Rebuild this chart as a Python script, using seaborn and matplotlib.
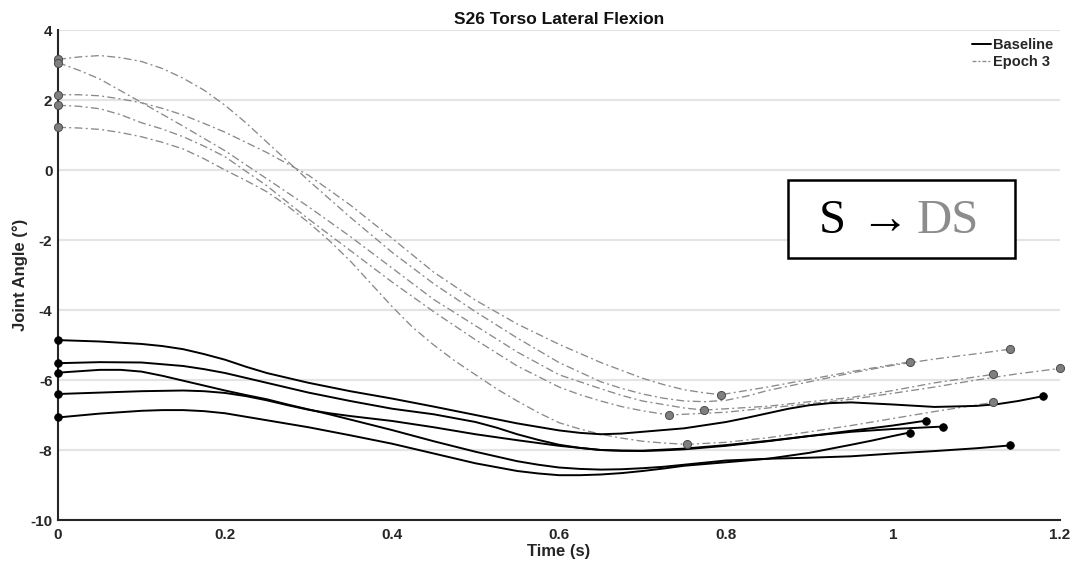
import matplotlib
matplotlib.use("Agg")
import matplotlib.pyplot as plt
from matplotlib.lines import Line2D
from matplotlib.patches import Rectangle
import pandas as pd
import seaborn as sns

# ---------------- data: torso lateral flexion, subject S26 ----------------
# Baseline trials (time in s, angle in degrees)
baseline_1_t = [0, 0.05, 0.1, 0.125, 0.15, 0.175, 0.2, 0.225, 0.25, 0.3, 0.35, 0.4, 0.45, 0.5, 0.55,
                0.6, 0.625, 0.65, 0.675, 0.7, 0.75, 0.8, 0.825, 0.85, 0.875, 0.9, 0.925, 0.95,
                1.0, 1.05, 1.1, 1.125, 1.15, 1.18]
baseline_1_y = [-4.86, -4.9, -4.97, -5.03, -5.12, -5.26, -5.42, -5.62, -5.8, -6.08, -6.32, -6.53,
                -6.76, -7.0, -7.24, -7.44, -7.51, -7.55, -7.53, -7.48, -7.38, -7.2, -7.08, -6.95,
                -6.82, -6.72, -6.66, -6.64, -6.7, -6.77, -6.74, -6.69, -6.6, -6.46]

baseline_2_t = [0, 0.05, 0.1, 0.15, 0.175, 0.2, 0.225, 0.25, 0.3, 0.35, 0.4, 0.45, 0.5, 0.525,
                0.55, 0.575, 0.6, 0.625, 0.65, 0.675, 0.7, 0.75, 0.8, 0.85, 0.9, 0.95, 1.0, 1.04]
baseline_2_y = [-5.52, -5.49, -5.5, -5.6, -5.69, -5.8, -5.94, -6.08, -6.36, -6.6, -6.82, -6.98,
                -7.2, -7.36, -7.55, -7.71, -7.85, -7.94, -8.0, -8.02, -8.02, -7.96, -7.86, -7.74,
                -7.6, -7.45, -7.3, -7.16]

baseline_3_t = [0, 0.05, 0.075, 0.1, 0.125, 0.15, 0.175, 0.2, 0.225, 0.25, 0.275, 0.3, 0.325,
                0.35, 0.4, 0.45, 0.5, 0.55, 0.575, 0.6, 0.625, 0.65, 0.675, 0.7, 0.725, 0.75,
                0.8, 0.85, 0.9, 0.95, 1.0, 1.05, 1.1, 1.14]
baseline_3_y = [-5.79, -5.71, -5.71, -5.76, -5.88, -6.02, -6.16, -6.3, -6.43, -6.55, -6.7, -6.84,
                -6.98, -7.13, -7.43, -7.75, -8.05, -8.32, -8.42, -8.5, -8.54, -8.56, -8.55, -8.52,
                -8.48, -8.42, -8.3, -8.25, -8.22, -8.18, -8.1, -8.03, -7.95, -7.87]

baseline_4_t = [0, 0.05, 0.1, 0.15, 0.175, 0.2, 0.225, 0.25, 0.275, 0.3, 0.325, 0.35, 0.4, 0.45,
                0.5, 0.55, 0.6, 0.65, 0.675, 0.7, 0.725, 0.75, 0.8, 0.85, 0.9, 0.95, 1.0, 1.06]
baseline_4_y = [-6.4, -6.36, -6.32, -6.3, -6.32, -6.37, -6.46, -6.58, -6.72, -6.85, -6.95, -7.03,
                -7.17, -7.35, -7.55, -7.72, -7.88, -8.0, -8.02, -8.03, -8.01, -7.98, -7.88, -7.75,
                -7.6, -7.48, -7.4, -7.33]

baseline_5_t = [0, 0.05, 0.1, 0.125, 0.15, 0.175, 0.2, 0.225, 0.25, 0.3, 0.35, 0.4, 0.45, 0.5,
                0.55, 0.575, 0.6, 0.625, 0.65, 0.675, 0.7, 0.725, 0.75, 0.8, 0.85, 0.9, 0.95,
                0.975, 1.0, 1.02]
baseline_5_y = [-7.07, -6.96, -6.88, -6.86, -6.86, -6.89, -6.95, -7.05, -7.15, -7.35, -7.58,
                -7.82, -8.1, -8.38, -8.6, -8.67, -8.72, -8.72, -8.7, -8.66, -8.6, -8.53, -8.45,
                -8.35, -8.25, -8.08, -7.85, -7.73, -7.6, -7.5]

# Epoch 3 trials
epoch3_1_t = [0, 0.025, 0.05, 0.075, 0.1, 0.125, 0.15, 0.175, 0.2, 0.225, 0.25, 0.3, 0.35, 0.4,
              0.45, 0.5, 0.55, 0.6, 0.65, 0.675, 0.7, 0.725, 0.75, 0.775, 0.8, 0.825, 0.85, 0.9,
              0.95, 1.0, 1.05, 1.1, 1.14]
epoch3_1_y = [3.16, 3.23, 3.27, 3.21, 3.1, 2.9, 2.62, 2.28, 1.85, 1.35, 0.8, -0.3, -1.35, -2.35,
              -3.25, -4.05, -4.8, -5.5, -6.05, -6.24, -6.4, -6.52, -6.6, -6.62, -6.58, -6.46,
              -6.3, -6.05, -5.8, -5.58, -5.4, -5.25, -5.12]

epoch3_2_t = [0, 0.025, 0.05, 0.1, 0.15, 0.2, 0.25, 0.3, 0.35, 0.4, 0.45, 0.5, 0.55, 0.6, 0.65,
              0.675, 0.7, 0.75, 0.774, 0.85, 0.9, 0.95, 1.0, 1.05, 1.12]
epoch3_2_y = [3.07, 2.85, 2.6, 1.93, 1.25, 0.55, -0.25, -1.05, -1.9, -2.8, -3.7, -4.45, -5.2,
              -5.85, -6.25, -6.44, -6.6, -6.8, -6.86, -6.75, -6.62, -6.5, -6.3, -6.08, -5.84]

epoch3_3_t = [0, 0.025, 0.05, 0.075, 0.1, 0.125, 0.15, 0.175, 0.2, 0.25, 0.3, 0.35, 0.4, 0.45,
              0.5, 0.55, 0.6, 0.65, 0.7, 0.725, 0.75, 0.775, 0.794, 0.85, 0.9, 0.95, 1.02]
epoch3_3_y = [2.15, 2.15, 2.12, 2.03, 1.92, 1.76, 1.57, 1.33, 1.08, 0.5, -0.15, -1.0, -1.95,
              -2.92, -3.72, -4.4, -4.98, -5.5, -5.95, -6.13, -6.28, -6.37, -6.42, -6.2, -5.98,
              -5.76, -5.48]

epoch3_4_t = [0, 0.025, 0.05, 0.075, 0.1, 0.125, 0.15, 0.175, 0.2, 0.25, 0.3, 0.35, 0.4, 0.45,
              0.5, 0.55, 0.6, 0.625, 0.65, 0.675, 0.7, 0.732, 0.8, 0.85, 0.9, 0.95, 1.0, 1.05,
              1.1, 1.15, 1.2]
epoch3_4_y = [1.85, 1.82, 1.75, 1.58, 1.35, 1.17, 0.95, 0.68, 0.38, -0.45, -1.4, -2.3, -3.2,
              -4.05, -4.85, -5.6, -6.2, -6.42, -6.6, -6.76, -6.88, -7.0, -6.92, -6.8, -6.68,
              -6.55, -6.38, -6.2, -6.0, -5.82, -5.67]

epoch3_5_t = [0, 0.025, 0.05, 0.075, 0.1, 0.125, 0.15, 0.175, 0.2, 0.225, 0.25, 0.275, 0.3,
              0.325, 0.35, 0.375, 0.4, 0.425, 0.45, 0.475, 0.5, 0.525, 0.55, 0.575, 0.6, 0.625,
              0.65, 0.675, 0.7, 0.725, 0.753, 0.8, 0.85, 0.9, 0.95, 1.0, 1.05, 1.12]
epoch3_5_y = [1.22, 1.2, 1.16, 1.07, 0.95, 0.79, 0.6, 0.32, 0.0, -0.3, -0.62, -1.03, -1.5,
              -2.02, -2.6, -3.25, -3.9, -4.5, -5.0, -5.45, -5.85, -6.25, -6.6, -6.93, -7.22,
              -7.4, -7.55, -7.66, -7.75, -7.8, -7.84, -7.78, -7.65, -7.48, -7.3, -7.1, -6.9,
              -6.64]

# phase-transition events marked on the Epoch 3 trials (None = no event marked)
epoch3_event_t = [None, 0.774, 0.794, 0.732, 0.753]

y_ticks = [-10, -8, -6, -4, -2, 0, 2, 4]
x_ticks = [0, 0.2, 0.4, 0.6, 0.8, 1.0, 1.2]
x_tick_labels = ["0", "0.2", "0.4", "0.6", "0.8", "1", "1.2"]

# ---------------- tidy tables ----------------
baseline_trials = [(baseline_1_t, baseline_1_y), (baseline_2_t, baseline_2_y),
                   (baseline_3_t, baseline_3_y), (baseline_4_t, baseline_4_y),
                   (baseline_5_t, baseline_5_y)]
epoch3_trials = [(epoch3_1_t, epoch3_1_y), (epoch3_2_t, epoch3_2_y),
                 (epoch3_3_t, epoch3_3_y), (epoch3_4_t, epoch3_4_y),
                 (epoch3_5_t, epoch3_5_y)]

rows, marks = [], []
for i, (t, y) in enumerate(baseline_trials):
    assert len(t) == len(y)
    for tt, yy in zip(t, y):
        rows.append(dict(time=tt, angle=yy, condition="Baseline", trial=f"B{i}"))
    marks.append(dict(time=t[0], angle=y[0], condition="Baseline"))
    marks.append(dict(time=t[-1], angle=y[-1], condition="Baseline"))
for i, (t, y) in enumerate(epoch3_trials):
    assert len(t) == len(y)
    for tt, yy in zip(t, y):
        rows.append(dict(time=tt, angle=yy, condition="Epoch 3", trial=f"E{i}"))
    marks.append(dict(time=t[0], angle=y[0], condition="Epoch 3"))
    ev = epoch3_event_t[i]
    if ev is not None:
        k = t.index(ev)
        marks.append(dict(time=t[k], angle=y[k], condition="Epoch 3"))
    marks.append(dict(time=t[-1], angle=y[-1], condition="Epoch 3"))

df = pd.DataFrame(rows)
mk = pd.DataFrame(marks)

# ---------------- figure ----------------
sns.set_style("white")
plt.rcParams["font.family"] = ["Liberation Sans", "DejaVu Sans"]

BLACK = "#000000"
GREY = "#8a8a8a"
AXIS = "#262626"

fig = plt.figure(figsize=(10.75, 5.65), dpi=100)
ax = fig.add_axes([58 / 1075, 45 / 565, 1002 / 1075, 490 / 565])

sns.lineplot(data=df[df.condition == "Baseline"], x="time", y="angle", units="trial",
             estimator=None, sort=False, color=BLACK, lw=1.4, legend=False, ax=ax, zorder=3)
sns.lineplot(data=df[df.condition == "Epoch 3"], x="time", y="angle", units="trial",
             estimator=None, sort=False, color=GREY, lw=0.95,
             linestyle=(0, (6, 2.5, 1.5, 2.5)), legend=False, ax=ax, zorder=2)

# trial start / event / end markers (drawn over the axis lines, not clipped)
sns.scatterplot(data=mk[mk.condition == "Baseline"], x="time", y="angle", color=BLACK,
                s=30, edgecolor=BLACK, linewidth=0.6, legend=False, ax=ax, zorder=5,
                clip_on=False)
sns.scatterplot(data=mk[mk.condition == "Epoch 3"], x="time", y="angle", color="#7f7f7f",
                s=34, edgecolor="#4a4a4a", linewidth=0.7, legend=False, ax=ax, zorder=5,
                clip_on=False)

ax.set_xlim(0, 1.2)
ax.set_ylim(-10, 4)
ax.set_xticks(x_ticks)
ax.set_xticklabels(x_tick_labels)
ax.set_yticks(y_ticks)
ax.set_yticklabels([str(v) for v in y_ticks])

ax.yaxis.grid(True, color="#e4e4e4", lw=1.6, zorder=0)
ax.xaxis.grid(False)
ax.set_axisbelow(True)

for side in ("top", "right"):
    ax.spines[side].set_visible(False)
for side in ("left", "bottom"):
    ax.spines[side].set_color(AXIS)
    ax.spines[side].set_linewidth(1.5)

ax.tick_params(axis="both", direction="in", length=7, width=1.5, color=AXIS,
               labelsize=11, labelcolor=AXIS)
ax.tick_params(axis="y", pad=4)
ax.tick_params(axis="x", pad=6)
for lab in ax.get_xticklabels() + ax.get_yticklabels():
    lab.set_fontweight("bold")

ax.set_title("S26 Torso Lateral Flexion", fontsize=12.5, fontweight="bold", color="#111111",
             pad=4)
ax.set_xlabel("Time (s)", fontsize=12, fontweight="bold", color=AXIS, labelpad=1)
ax.set_ylabel("Joint Angle (°)", fontsize=12, fontweight="bold", color=AXIS, labelpad=1.5)

handles = [Line2D([], [], color=BLACK, lw=1.4),
           Line2D([], [], color=GREY, lw=0.95, linestyle=(0, (3, 1.5, 1.5, 1.5)))]
leg = ax.legend(handles, ["Baseline", "Epoch 3"], loc="upper right",
                bbox_to_anchor=(1053 / 1075, 1 - 38 / 565), bbox_transform=fig.transFigure,
                frameon=False, borderpad=0, borderaxespad=0, handlelength=1.3,
                handletextpad=0.1, labelspacing=0.2, prop={"weight": "bold", "size": 10.5})

# phase annotation box
fig.patches.append(Rectangle((788 / 1075, 1 - 258 / 565), 227 / 1075, 78 / 565,
                             transform=fig.transFigure, facecolor="white",
                             edgecolor="black", lw=1.8, zorder=5))
serif = ["Liberation Serif", "DejaVu Serif"]
base_y = 1 - 233 / 565
fig.text(832 / 1075, base_y, "S", family=serif, fontsize=35, color="black",
         ha="center", va="baseline", zorder=6)
fig.text(884 / 1075, base_y, "\u2192", family=serif, fontsize=35, color="black",
         ha="center", va="baseline", zorder=6)
fig.text(948 / 1075, base_y, "DS", family=serif, fontsize=35, color="#8c8c8c",
         ha="center", va="baseline", zorder=6)

fig.savefig("out.png", dpi=100)
